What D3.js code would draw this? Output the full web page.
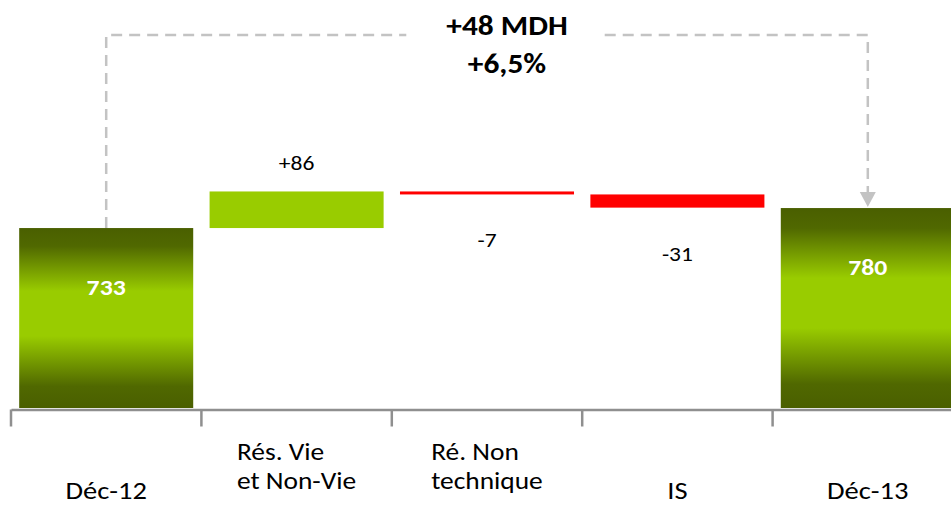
<!DOCTYPE html>
<html>
<head>
<meta charset="utf-8">
<script src="https://cdn.jsdelivr.net/npm/d3@7"></script>
<style>
  html, body { margin: 0; padding: 0; background: #ffffff; }
  svg { display: block; }
  text { font-family: Carlito, Lato, "Open Sans", sans-serif; }
</style>
</head>
<body>
<svg id="chart" width="951" height="505"></svg>
<script>
// ---- data ----
const categories = ["Déc-12", "Rés. Vie\net Non-Vie", "Ré. Non\ntechnique", "IS", "Déc-13"];
const kinds      = ["total", "delta", "delta", "delta", "total"];
const values     = [733, 86, -7, -31, 780];
const valueLabels = ["733", "+86", "-7", "-31", "780"];
const titleLines = ["+48 MDH", "+6,5%"];

// ---- layout ----
const SX = 1.12; // horizontal text stretch of the source picture
const svg = d3.select("#chart");

const x = d3.scaleBand().domain(categories).range([11, 963]).paddingInner(0).paddingOuter(0);
const y = d3.scaleLinear().domain([310, 786]).range([408, 205.5]);
const barW = x.bandwidth() * 0.914;
const barX = c => x(c) + (x.bandwidth() - barW) / 2;
const cx = c => x(c) + x.bandwidth() / 2;

// waterfall geometry from values
let running = 0;
const bars = categories.map((c, i) => {
  let y0, y1;
  if (kinds[i] === "total") { y0 = y.domain()[0]; y1 = values[i]; running = values[i]; }
  else { y0 = running; y1 = running + values[i]; running = y1; }
  return { cat: c, kind: kinds[i], v: values[i], lo: Math.min(y0, y1), hi: Math.max(y0, y1), label: valueLabels[i] };
});

// gradient for totals
const defs = svg.append("defs");
const g = defs.append("linearGradient").attr("id", "totGrad").attr("x1", 0).attr("y1", 0).attr("x2", 0).attr("y2", 1);
[[0, "#4a5f00"], [0.1, "#506800"], [0.35, "#99cc00"], [0.6, "#99cc00"], [0.88, "#506800"], [1, "#4a5f00"]]
  .forEach(([o, c]) => g.append("stop").attr("offset", o).attr("stop-color", c));

// bars
svg.append("g").selectAll("rect").data(bars).join("rect")
  .attr("x", d => barX(d.cat))
  .attr("y", d => y(d.hi))
  .attr("width", barW)
  .attr("height", d => Math.max(1, y(d.lo) - y(d.hi)))
  .attr("fill", d => d.kind === "total" ? "url(#totGrad)" : (d.v >= 0 ? "#99cc00" : "#ff0000"));

// axis
const axisY = 409.5;
const axis = d3.axisBottom(x).tickSize(0).tickFormat("");
const ax = svg.append("g").attr("transform", `translate(0,${axisY})`).call(axis);
ax.select(".domain").attr("stroke", "#8f8f8f").attr("stroke-width", 2.5);
const boundaries = categories.map(c => x(c));
ax.selectAll("line.bound").data(boundaries).join("line").attr("class", "bound")
  .attr("x1", d => d).attr("x2", d => d).attr("y1", 0).attr("y2", 17)
  .attr("stroke", "#8f8f8f").attr("stroke-width", 2.5);

// category labels (left-aligned block centred on band)
svg.append("g").selectAll("g").data(categories).join("g").each(function (c) {
  const lines = c.split("\n");
  const gg = d3.select(this);
  const one = lines.length === 1;
  const base = one ? [499] : [460, 489];
  const fs = one ? 25.5 : 23.5;
  const sx = one ? SX : SX * 25.5 / 23.5 * 0.96;
  const t = gg.selectAll("text").data(lines).join("text")
    .attr("font-size", fs)
    .attr("fill", "#000")
    .text(d => d);
  let maxW = 0;
  t.each(function () { maxW = Math.max(maxW, this.getComputedTextLength() * sx); });
  t.attr("transform", (d, i) => `translate(${cx(c) - maxW / 2},${base[i]}) scale(${sx},1)`);
});

// value labels
svg.append("g").selectAll("text").data(bars).join("text")
  .attr("text-anchor", "middle")
  .attr("transform", d => {
    const ty = d.kind === "total" ? y(d.hi) + 67 : (d.v >= 0 ? y(d.hi) - 21 : y(d.lo) + 53);
    return `translate(${cx(d.cat)},${ty}) scale(${SX},1)`;
  })
  .attr("font-size", d => d.kind === "total" ? 23 : 21)
  .attr("font-weight", d => d.kind === "total" ? "bold" : "normal")
  .attr("fill", d => d.kind === "total" ? "#ffffff" : "#000000")
  .text(d => d.label);

// title
const titleX = 507;
const tt = svg.append("g").selectAll("text").data(titleLines).join("text")
  .attr("transform", (d, i) => `translate(${titleX},${35 + i * 38}) scale(${SX},1)`)
  .attr("text-anchor", "middle").attr("font-size", 28).attr("font-weight", "bold")
  .attr("fill", "#000").text(d => d);
let tw = 0;
tt.each(function () { tw = Math.max(tw, this.getComputedTextLength() * SX); });

// dashed connector
const lineY = 35;
const xa = cx(categories[0]), xb = cx(categories[4]);
const gap0 = titleX - tw / 2 - 40, gap1 = titleX + tw / 2 + 37;
const conn = svg.append("g").attr("fill", "none").attr("stroke", "#c3c3c3")
  .attr("stroke-width", 2.5).attr("stroke-dasharray", "11,7");
conn.append("path").attr("d", `M${xa},${y(values[0])}V${lineY}H${gap0}`);
conn.append("path").attr("d", `M${gap1},${lineY}H${xb}V${y(values[4]) - 16}`);
svg.append("path")
  .attr("d", `M${xb - 8},${y(values[4]) - 16}L${xb + 8},${y(values[4]) - 16}L${xb},${y(values[4]) - 1}Z`)
  .attr("fill", "#c3c3c3");
</script>
</body>
</html>
